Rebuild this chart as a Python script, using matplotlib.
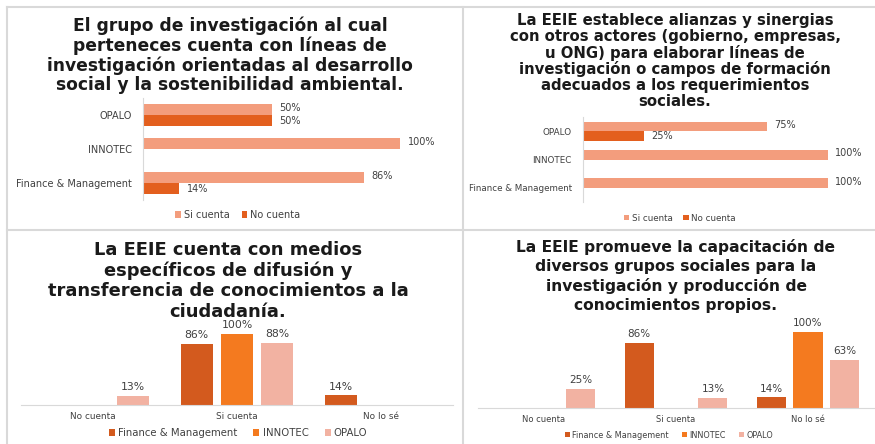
import matplotlib
matplotlib.use("Agg")
import numpy as np
import matplotlib.pyplot as plt
from matplotlib.lines import Line2D

plt.rcParams['font.family'] = ['DejaVu Sans']

W, H = 875, 444

# --- data ---
hbar_groups = ["Finance & Management", "INNOTEC", "OPALO"]
hbar_series = ["Si cuenta", "No cuenta"]
tl_si = [86, 100, 50]
tl_no = [14, 0, 50]
tr_si = [100, 100, 75]
tr_no = [0, 0, 25]

vbar_cats = ["No cuenta", "Si cuenta", "No lo sé"]
vbar_series = ["Finance & Management", "INNOTEC", "OPALO"]
bl_finance = [0, 86, 14]
bl_innotec = [0, 100, 0]
bl_opalo = [13, 88, 0]
br_finance = [0, 86, 14]
br_innotec = [0, 0, 100]
br_opalo = [25, 13, 63]

tl_title = ("El grupo de investigación al cual\nperteneces cuenta con líneas de\n"
            "investigación orientadas al desarrollo\nsocial y la sostenibilidad ambiental.")
tr_title = ("La EEIE establece alianzas y sinergias\ncon otros actores (gobierno, empresas,\n"
            "u ONG) para elaborar líneas de\ninvestigación o campos de formación\n"
            "adecuados a los requerimientos\nsociales.")
bl_title = ("La EEIE cuenta con medios\nespecíficos de difusión y\n"
            "transferencia de conocimientos a la\nciudadanía.")
br_title = ("La EEIE promueve la capacitación de\ndiversos grupos sociales para la\n"
            "investigación y producción de\nconocimientos propios.")

si_color = "#F39D7D"
no_color = "#E35F1E"
fin_color = "#D35A1E"
inn_color = "#F47A1F"
opa_color = "#F2B2A2"
txt_color = "#404040"
grid_color = "#D9D9D9"


def px_rect(x0, y0, x1, y1):
    return [x0 / W, 1 - y1 / H, (x1 - x0) / W, (y1 - y0) / H]


def fx(x):
    return x / W


def fy(y):
    return 1 - y / H


fig = plt.figure(figsize=(W / 100, H / 100), dpi=100)

# panel separators
for seg in [((7, 875), (7, 7)), ((7, 7), (7, 444)), ((7, 875), (230, 230)),
            ((463, 463), (7, 444))]:
    fig.add_artist(Line2D([fx(seg[0][0]), fx(seg[0][1])], [fy(seg[1][0]), fy(seg[1][1])],
                          color=grid_color, lw=1.5))


def add_title(title, xy, size, ls):
    fig.text(fx(xy[0]), fy(xy[1]), title, ha="center", va="center", ma="center",
             fontsize=size, fontweight="bold", color="#1a1a1a", linespacing=ls)


def hbar_panel(rect, si, no, title, title_xy, title_size, title_ls, tick_size, lab_size, leg_xy):
    ax = fig.add_axes(px_rect(*rect))
    y = np.arange(len(hbar_groups))
    h = 0.33
    ax.barh(y + h / 2, si, height=h, color=si_color, label=hbar_series[0])
    ax.barh(y - h / 2, no, height=h, color=no_color, label=hbar_series[1])
    for yi, v in zip(y + h / 2, si):
        if v:
            ax.text(v + 3, yi + 0.05, f"{v}%", fontsize=lab_size, color=txt_color, va="center")
    for yi, v in zip(y - h / 2, no):
        if v:
            ax.text(v + 3, yi, f"{v}%", fontsize=lab_size, color=txt_color, va="center")
    ax.set_xlim(0, 100)
    ax.set_ylim(-0.5, len(hbar_groups) - 0.5)
    ax.set_yticks(y)
    ax.set_yticklabels(hbar_groups, fontsize=tick_size, color=txt_color)
    ax.tick_params(axis="y", length=0, pad=8)
    ax.set_xticks([])
    for s in ["top", "right", "bottom"]:
        ax.spines[s].set_visible(False)
    ax.spines["left"].set_color(grid_color)
    ax.patch.set_alpha(0)
    add_title(title, title_xy, title_size, title_ls)
    ax.legend(loc="center", bbox_to_anchor=(fx(leg_xy[0]), fy(leg_xy[1])),
              bbox_transform=fig.transFigure, ncol=2, frameon=False,
              fontsize=tick_size, handlelength=0.6, handleheight=0.6,
              handletextpad=0.3, columnspacing=1.2, labelcolor=txt_color)


def vbar_panel(rect, fin, inn, opa, title, title_xy, title_size, title_ls, tick_size, lab_size,
               leg_size, leg_xy):
    ax = fig.add_axes(px_rect(*rect))
    x = np.arange(len(vbar_cats))
    w = 0.22
    off = 0.28
    for vals, col, lab, dx in [(fin, fin_color, vbar_series[0], -off),
                               (inn, inn_color, vbar_series[1], 0),
                               (opa, opa_color, vbar_series[2], off)]:
        ax.bar(x + dx, vals, width=w, color=col, label=lab)
        for xi, v in zip(x + dx, vals):
            if v:
                ax.text(xi, v + 5, f"{v}%", fontsize=lab_size, color=txt_color,
                        ha="center", va="bottom")
    ax.set_xlim(-0.5, len(vbar_cats) - 0.5)
    ax.set_ylim(0, 100)
    ax.set_xticks(x)
    ax.set_xticklabels(vbar_cats, fontsize=tick_size, color=txt_color)
    ax.tick_params(axis="x", length=0, pad=5)
    ax.set_yticks([])
    for s in ["top", "right", "left"]:
        ax.spines[s].set_visible(False)
    ax.spines["bottom"].set_color(grid_color)
    ax.patch.set_alpha(0)
    add_title(title, title_xy, title_size, title_ls)
    ax.legend(loc="center", bbox_to_anchor=(fx(leg_xy[0]), fy(leg_xy[1])),
              bbox_transform=fig.transFigure, ncol=3, frameon=False,
              fontsize=leg_size, handlelength=0.6, handleheight=0.6,
              handletextpad=0.3, columnspacing=1.6, labelcolor=txt_color)


hbar_panel((143, 98, 400, 200), tl_si, tl_no, tl_title, (230, 55.5), 12.3, 1.1, 7.0, 7.0, (238, 215))
hbar_panel((583, 117, 828, 202), tr_si, tr_no, tr_title, (675, 61), 10.7, 1.06, 6.3, 7.0, (680, 218))
vbar_panel((21, 334, 453, 405), bl_finance, bl_innotec, bl_opalo, bl_title, (228, 281), 12.9, 1.16,
           6.4, 7.8, 7.3, (238, 433))
vbar_panel((478, 332, 874, 408), br_finance, br_innotec, br_opalo, br_title, (676, 276), 11.2, 1.3,
           6.0, 7.5, 5.9, (669, 435))

fig.savefig("out.png", dpi=100)
